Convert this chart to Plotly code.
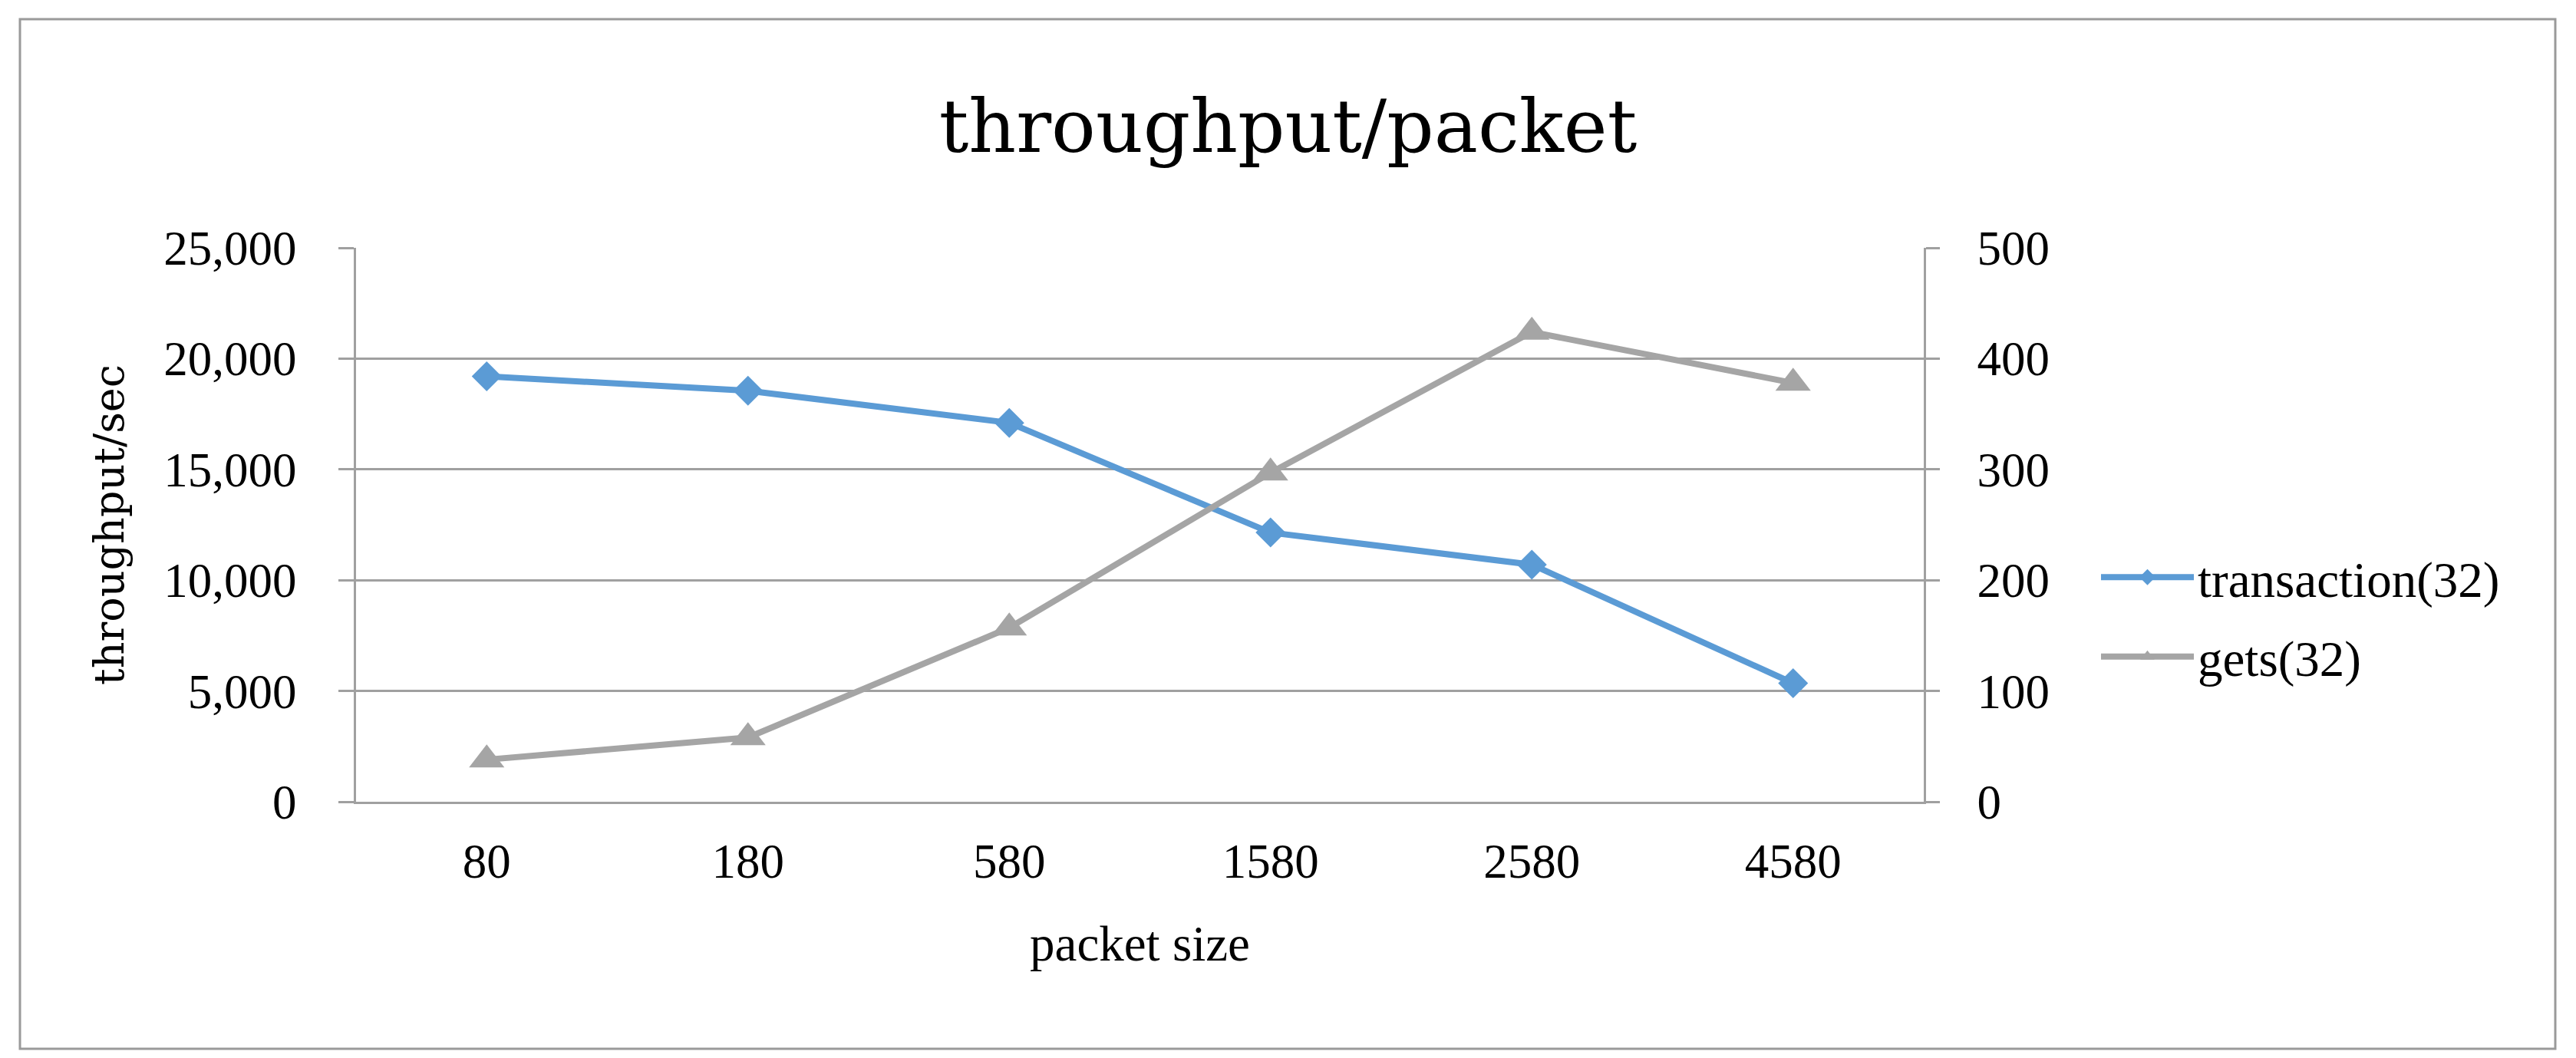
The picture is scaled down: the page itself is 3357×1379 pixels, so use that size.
import plotly.graph_objects as go

categories = ["80", "180", "580", "1580", "2580", "4580"]
transaction_32 = [19200, 18550, 17100, 12150, 10700, 5350]
gets_32 = [38, 58, 157, 297, 424, 378]
left_ticks = [0, 5000, 10000, 15000, 20000, 25000]
right_ticks = [0, 100, 200, 300, 400, 500]

BLUE = "#5B9BD5"
GRAY = "#A5A5A5"
GRID = "#A0A0A0"
SERIF = "Liberation Serif"
WIDE = "DejaVu Serif"

fig = go.Figure()
fig.add_trace(go.Scatter(
    x=categories, y=transaction_32, name="transaction(32)", mode="lines+markers",
    line=dict(color=BLUE, width=8), marker=dict(symbol="diamond", size=30, color=BLUE),
    legendgroup="a", yaxis="y"))
fig.add_trace(go.Scatter(
    x=categories, y=gets_32, name="gets(32)", mode="lines+markers",
    line=dict(color=GRAY, width=8), marker=dict(symbol="triangle-up", size=40, color=GRAY),
    legendgroup="b", yaxis="y2"))

# page body has an 8px margin, so the figure is drawn 8px in from the window
W, H = 3341, 1363
L, R, T, B = 456, 2499, 315, 1037
fig.update_layout(
    width=W, height=H,
    margin=dict(l=L, r=W - R, t=T, b=H - B, autoexpand=False),
    paper_bgcolor="white", plot_bgcolor="white",
    font=dict(family=SERIF, size=63, color="black"),
    title=dict(text="throughput/packet", x=0.5, xref="container", xanchor="center",
               y=1 - 156 / H, yref="container", yanchor="middle",
               font=dict(family=WIDE, size=96, color="black")),
    xaxis=dict(type="category", categoryorder="array", categoryarray=categories,
               range=[-0.5, 5.5], showgrid=False, showline=True, linecolor=GRID, linewidth=3,
               ticks="", ticklabelstandoff=20, tickfont=dict(family=SERIF, size=63),
               title=dict(text="packet size", font=dict(family=SERIF, size=65), standoff=50),
               zeroline=False),
    yaxis=dict(range=[0, 25000], tickvals=left_ticks, tickformat=",d",
               showgrid=True, gridcolor=GRID, gridwidth=3,
               showline=True, linecolor=GRID, linewidth=3,
               ticks="outside", ticklen=20, tickcolor=GRID, tickwidth=3,
               ticklabelstandoff=42, tickfont=dict(family=SERIF, size=63),
               title=dict(text="throughput/sec", font=dict(family=WIDE, size=54), standoff=35),
               zeroline=False),
    yaxis2=dict(range=[0, 500], tickvals=right_ticks, overlaying="y", side="right",
                showgrid=False, showline=True, linecolor=GRID, linewidth=3,
                ticks="outside", ticklen=18, tickcolor=GRID, tickwidth=3,
                ticklabelstandoff=36, tickfont=dict(family=SERIF, size=63),
                zeroline=False),
    legend=dict(x=2725 / W, xref="container", xanchor="left",
                y=1 - 796 / H, yref="container", yanchor="middle",
                font=dict(family=SERIF, size=65), tracegroupgap=16, itemwidth=121,
                bgcolor="rgba(0,0,0,0)", itemsizing="trace"),
    showlegend=True,
)

# outer chart frame
fig.add_shape(type="rect", xref="paper", yref="paper",
              x0=(18 - L) / (R - L), x1=(3322 - L) / (R - L),
              y0=(B - 1359) / (B - T), y1=(B - 17) / (B - T),
              line=dict(color="#9A9A9A", width=3), fillcolor="rgba(0,0,0,0)", layer="below")

fig.write_html("out.html")
